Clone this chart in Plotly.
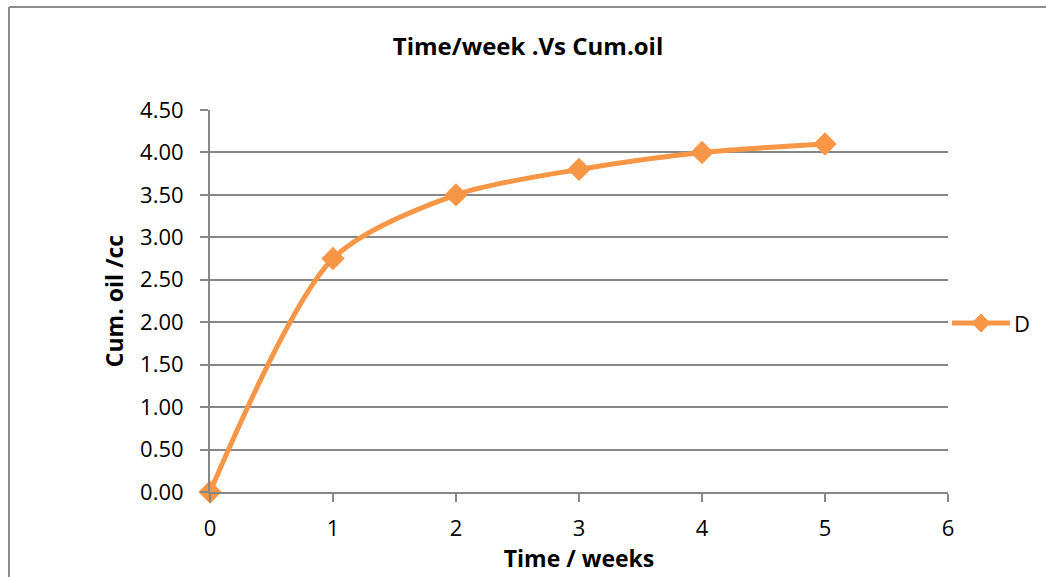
import plotly.graph_objects as go

weeks = [0, 1, 2, 3, 4, 5]
cum_oil = [0.0, 2.75, 3.5, 3.8, 4.0, 4.1]
series_name = "D"
title_text = "Time/week .Vs Cum.oil"
x_title = "Time / weeks"
y_title = "Cum. oil /cc"

ORANGE = "#F79646"
GRID = "#878787"
FONT = "Open Sans"

fig = go.Figure()
fig.add_trace(go.Scatter(
    x=weeks, y=cum_oil, name=series_name, mode="lines+markers",
    line=dict(color=ORANGE, width=5, shape="spline", smoothing=0.8),
    marker=dict(symbol="diamond", size=18, color=ORANGE),
    cliponaxis=False, showlegend=False,
))

L, R, T, B = 210, 98, 110, 85
W, H = 1046, 577
pw, ph = W - L - R, H - T - B

def px(xp):
    return (xp - L) / pw

def py(yp):
    return (H - B - yp) / ph

fig.update_layout(
    width=W, height=H,
    margin=dict(l=L, r=R, t=T, b=B),
    paper_bgcolor="white", plot_bgcolor="white",
    font=dict(family=FONT, size=21, color="black"),
    title=dict(text="<b>" + title_text + "</b>", x=528 / W, xanchor="center",
               y=1 - 47 / H, yanchor="middle", font=dict(size=24)),
    showlegend=False,
    xaxis=dict(range=[0, 6], dtick=1, tick0=0, showgrid=False,
               showline=True, linecolor=GRID, linewidth=2,
               ticks="outside", ticklen=8, tickcolor=GRID, tickwidth=2,
               zeroline=False, tickfont=dict(size=22), ticklabelstandoff=8,
               title=dict(text="<b>" + x_title + "</b>", font=dict(size=23), standoff=6)),
    yaxis=dict(range=[0, 4.5], dtick=0.5, tick0=0, tickformat=".2f",
               showgrid=True, gridcolor=GRID, gridwidth=2,
               showline=True, linecolor=GRID, linewidth=2,
               ticks="outside", ticklen=8, tickcolor=GRID, tickwidth=2,
               zeroline=False, tickfont=dict(size=22), ticklabelstandoff=12,
               title=dict(text="<b>" + y_title + "</b>", font=dict(size=23), standoff=10)),
)

# legend drawn manually (line + diamond + label)
ly = py(323)
fig.add_shape(type="line", xref="paper", yref="paper", x0=px(952), x1=px(1010), y0=ly, y1=ly,
              line=dict(color=ORANGE, width=5))
d = 9
fig.add_shape(type="path", xref="paper", yref="paper",
              path=f"M {px(981 - d)} {ly} L {px(981)} {py(323 - d)} L {px(981 + d)} {ly} L {px(981)} {py(323 + d)} Z",
              fillcolor=ORANGE, line=dict(color=ORANGE, width=1))
fig.add_annotation(xref="paper", yref="paper", x=px(1012), y=ly, xanchor="left", yanchor="middle",
                   text=series_name, showarrow=False, font=dict(size=22))

# chart outer border (top and left visible)
bx, by = px(9), py(7)
fig.add_shape(type="line", xref="paper", yref="paper", x0=bx, x1=bx, y0=py(H + 5), y1=by,
              line=dict(color="#8c8c8c", width=2))
fig.add_shape(type="line", xref="paper", yref="paper", x0=bx, x1=px(W + 5), y0=by, y1=by,
              line=dict(color="#8c8c8c", width=2))

fig.write_html("out.html")
